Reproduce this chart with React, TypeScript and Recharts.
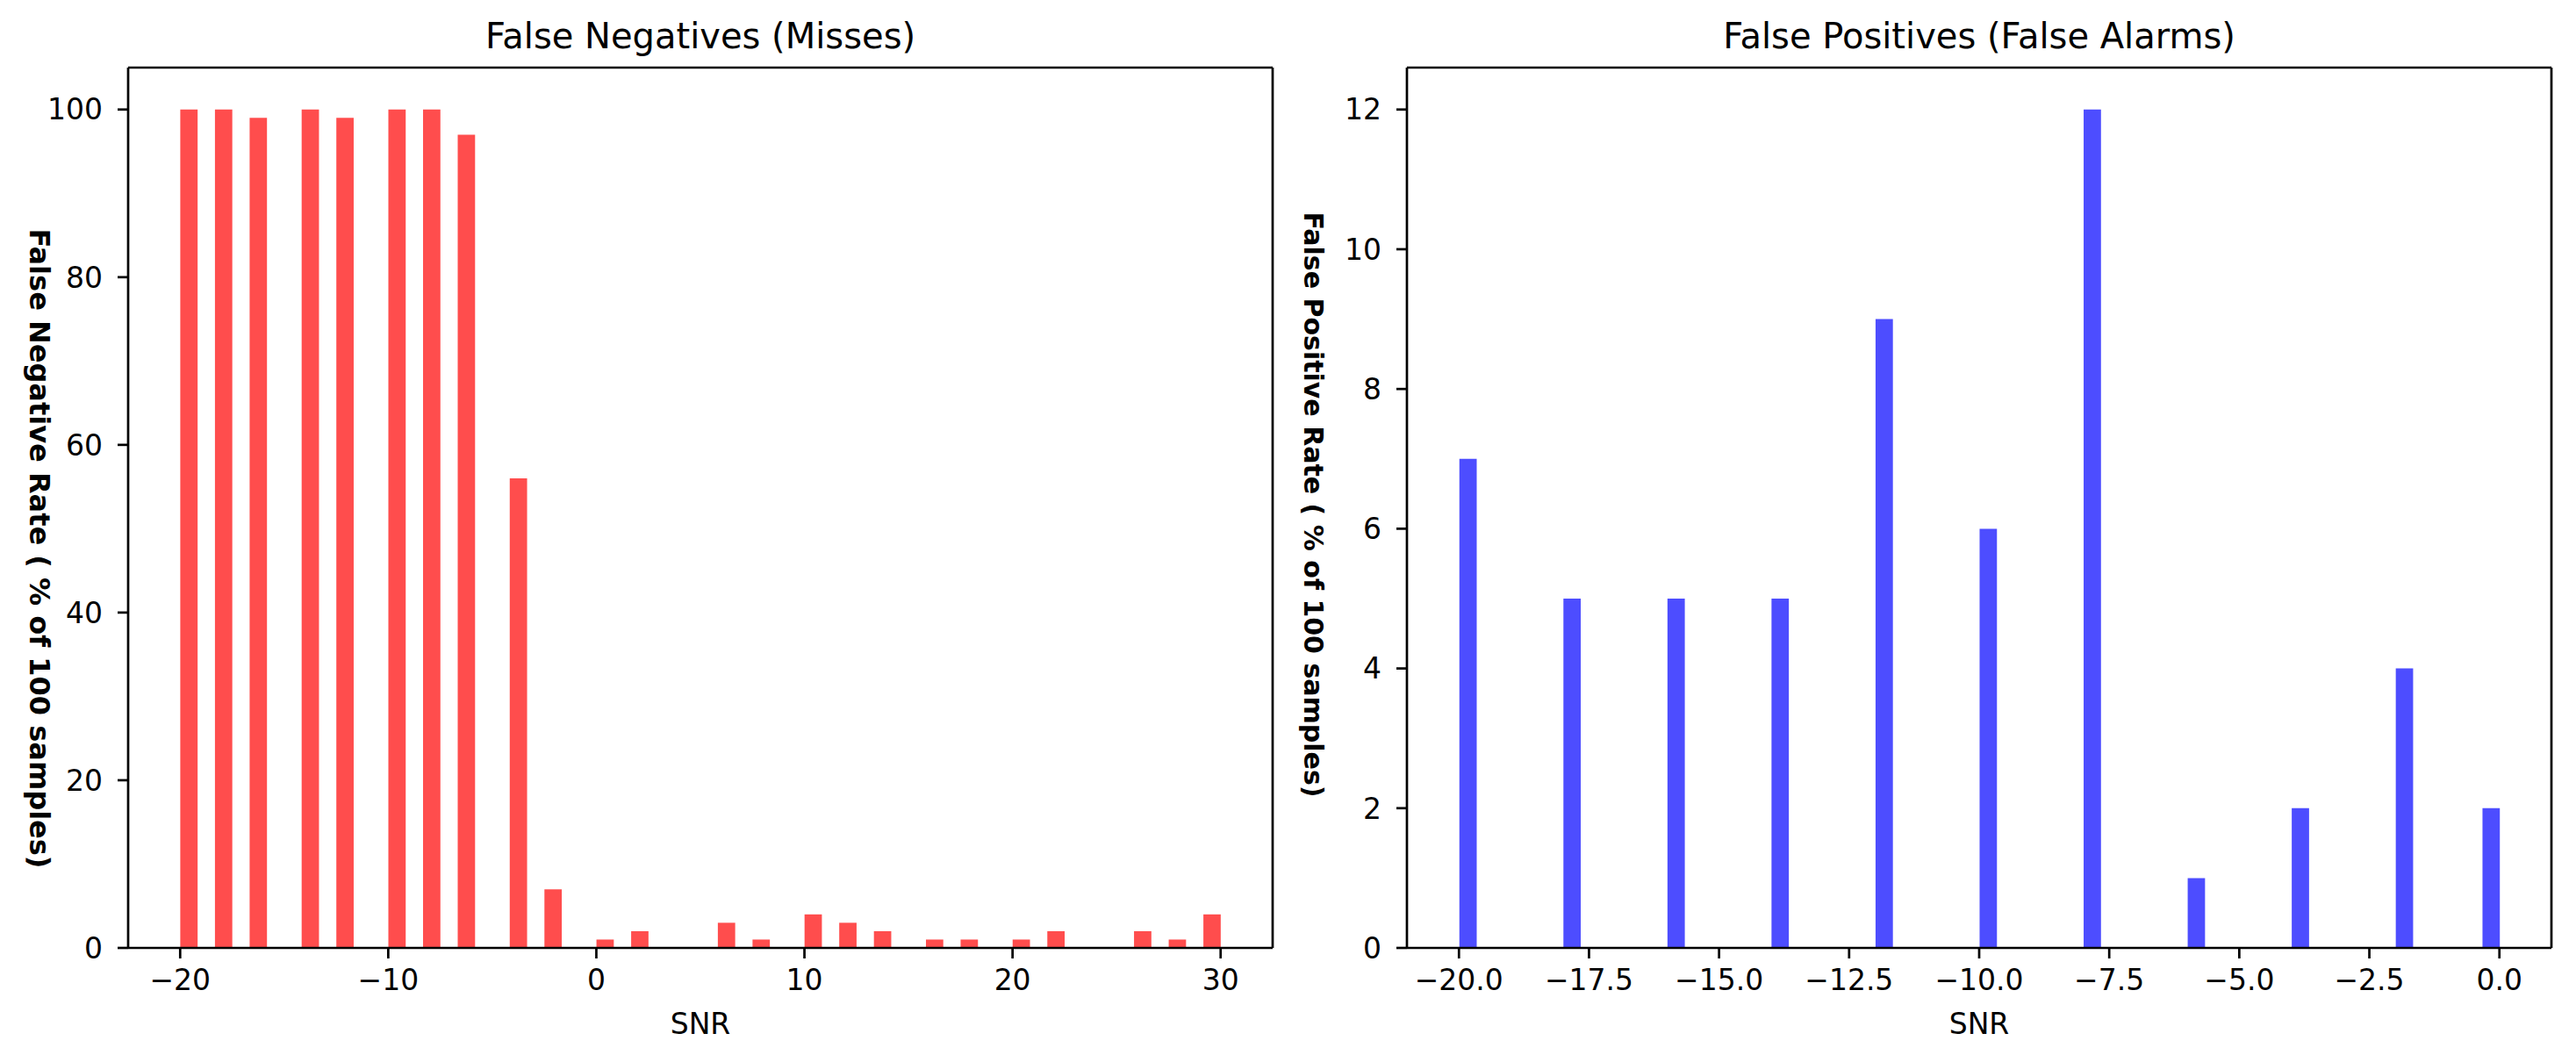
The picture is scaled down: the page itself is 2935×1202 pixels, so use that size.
import { Bar, BarChart, Label, ReferenceLine, XAxis, YAxis } from 'recharts';

// SNR levels and measured rates (% of 100 samples)
const MISS_SNR = [-20, -18, -16, -14, -12, -10, -8, -6, -4, -2, 0, 2, 4, 6, 8, 10, 12, 14, 16, 18, 20, 22, 24, 26, 28, 30];
const MISS_RATE = [100, 100, 99, 100, 99, 100, 100, 97, 56, 7, 1, 2, 0, 3, 1, 4, 3, 2, 1, 1, 1, 2, 0, 2, 1, 4];

const ALARM_SNR = [-20, -18, -16, -14, -12, -10, -8, -6, -4, -2, 0];
const ALARM_RATE = [7, 5, 5, 5, 9, 6, 12, 1, 2, 4, 2];

const MISS_X_TICKS = [-20, -10, 0, 10, 20, 30];
const MISS_Y_TICKS = [0, 20, 40, 60, 80, 100];
const ALARM_X_TICKS = [-20, -17.5, -15, -12.5, -10, -7.5, -5, -2.5, 0];
const ALARM_Y_TICKS = [0, 2, 4, 6, 8, 10, 12];

const BINS = 60;
const FONT = 'DejaVu Sans';
const AXIS = { stroke: '#000', strokeWidth: 2.7 };

// weighted histogram, like plt.hist(snr, bins=60, weights=rate)
function histogram(snr: number[], rate: number[]) {
  const lo = Math.min(...snr);
  const hi = Math.max(...snr);
  const w = (hi - lo) / BINS;
  const sums = new Array(BINS).fill(0);
  snr.forEach((v, i) => {
    const k = Math.min(BINS - 1, Math.floor((v - lo) / w + 1e-9));
    sums[k] += rate[i];
  });
  return sums.map((s, k) => ({ x: lo + (k + 0.5) * w, rate: s })).filter((d) => d.rate > 0);
}

const minus = (s: string) => s.replace('-', '\u2212');

interface PanelProps {
  data: { x: number; rate: number }[];
  color: string;
  width: number;
  yAxisWidth: number;
  marginRight: number;
  xDomain: [number, number];
  yDomain: [number, number];
  xTicks: number[];
  yTicks: number[];
  xFormat: (v: number) => string;
  title: string;
  yLabel: string;
  yLabelX: number;
  yLabelY: number;
  yLabelSize: number;
}

function Panel(p: PanelProps) {
  return (
    <BarChart
      width={p.width}
      height={1202}
      data={p.data}
      margin={{ top: 77, right: p.marginRight, left: 0, bottom: 0 }}
    >
      <XAxis
        dataKey="x"
        type="number"
        domain={p.xDomain}
        allowDataOverflow
        ticks={p.xTicks}
        tickFormatter={p.xFormat}
        height={122}
        axisLine={AXIS}
        tickLine={AXIS}
        tickSize={12}
        tickMargin={13}
        tick={{ fill: '#000', fontSize: 33, fontFamily: FONT }}
        interval={0}
      >
        <Label
          content={({ viewBox }: any) => (
            <text
              x={viewBox.x + viewBox.width / 2}
              y={viewBox.y + 98}
              textAnchor="middle"
              fontSize={33}
              fontFamily={FONT}
              fill="#000"
            >
              SNR
            </text>
          )}
        />
      </XAxis>
      <YAxis
        type="number"
        domain={p.yDomain}
        allowDataOverflow
        ticks={p.yTicks}
        width={p.yAxisWidth}
        axisLine={AXIS}
        tickLine={AXIS}
        tickSize={12}
        tickMargin={17}
        tick={{ fill: '#000', fontSize: 33, fontFamily: FONT }}
        interval={0}
      >
        <Label
          content={() => (
            <text
              x={p.yLabelX}
              y={p.yLabelY}
              transform={`rotate(90, ${p.yLabelX}, ${p.yLabelY})`}
              textAnchor="middle"
              dominantBaseline="central"
              fontSize={p.yLabelSize}
              fontWeight="bold"
              fontFamily={FONT}
              fill="#000"
            >
              {p.yLabel}
            </text>
          )}
        />
      </YAxis>
      <Bar dataKey="rate" fill={p.color} barSize={19.76} isAnimationActive={false} />
      {/* top and right spines, title on the top one */}
      <ReferenceLine y={p.yDomain[1]} stroke="#000" strokeWidth={2.7} ifOverflow="extendDomain">
        <Label
          content={({ viewBox }: any) => (
            <text
              x={viewBox.x + viewBox.width / 2}
              y={viewBox.y - 22}
              textAnchor="middle"
              fontSize={40}
              fontFamily={FONT}
              fill="#000"
            >
              {p.title}
            </text>
          )}
        />
      </ReferenceLine>
      <ReferenceLine x={p.xDomain[1]} stroke="#000" strokeWidth={2.7} ifOverflow="extendDomain" />
    </BarChart>
  );
}

export default function App() {
  const misses = histogram(MISS_SNR, MISS_RATE);
  const alarms = histogram(ALARM_SNR, ALARM_RATE);
  return (
    <div style={{ width: 2935, height: 1202, display: 'flex', background: '#fff' }}>
      <style>{'body{margin:0}'}</style>
      <Panel
        data={misses}
        color="#ff4d4d"
        width={1470}
        yAxisWidth={146}
        marginRight={20}
        xDomain={[-22.5, 32.5]}
        yDomain={[0, 105]}
        xTicks={MISS_X_TICKS}
        yTicks={MISS_Y_TICKS}
        xFormat={(v) => minus(String(v))}
        title="False Negatives (Misses)"
        yLabel="False Negative Rate ( % of 100 samples)"
        yLabelX={45}
        yLabelY={625}
        yLabelSize={32}
      />
      <Panel
        data={alarms}
        color="#4d4dff"
        width={1465}
        yAxisWidth={133}
        marginRight={28}
        xDomain={[-21, 1]}
        yDomain={[0, 12.6]}
        xTicks={ALARM_X_TICKS}
        yTicks={ALARM_Y_TICKS}
        xFormat={(v) => minus(v.toFixed(1))}
        title="False Positives (False Alarms)"
        yLabel="False Positive Rate ( % of 100 samples)"
        yLabelX={26}
        yLabelY={575}
        yLabelSize={30}
      />
    </div>
  );
}
